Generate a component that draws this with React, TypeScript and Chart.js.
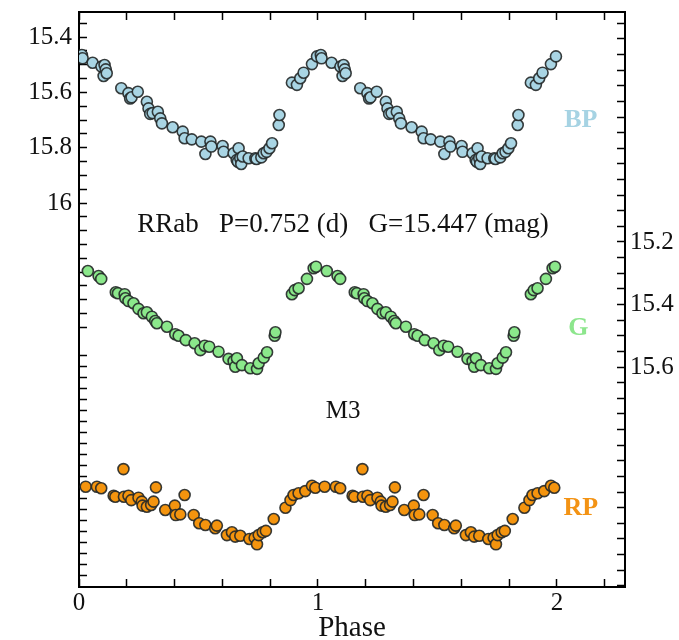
import { useEffect, useRef } from 'react';
import { Chart, registerables } from 'chart.js';

Chart.register(...registerables);

// ---- data (phase in [0,1); folded light curve is repeated at phase + 1) ----
const BP_PHASE = [0.012, 0.015, 0.057, 0.094, 0.103, 0.107, 0.112, 0.116, 0.177, 0.207, 0.214, 0.220, 0.246, 0.284, 0.291, 0.298, 0.308, 0.330, 0.340, 0.347, 0.392, 0.434, 0.442, 0.472, 0.512, 0.529, 0.550, 0.554, 0.601, 0.605, 0.647, 0.660, 0.665, 0.668, 0.675, 0.679, 0.685, 0.710, 0.738, 0.743, 0.763, 0.773, 0.785, 0.797, 0.808, 0.836, 0.839, 0.891, 0.912, 0.926, 0.940, 0.975, 0.996];
const BP_MAG = [15.465, 15.477, 15.493, 15.507, 15.541, 15.501, 15.517, 15.531, 15.585, 15.603, 15.622, 15.618, 15.598, 15.634, 15.658, 15.678, 15.675, 15.670, 15.694, 15.712, 15.726, 15.742, 15.766, 15.770, 15.778, 15.823, 15.778, 15.796, 15.794, 15.815, 15.820, 15.845, 15.851, 15.802, 15.838, 15.859, 15.832, 15.838, 15.838, 15.841, 15.835, 15.820, 15.815, 15.802, 15.784, 15.718, 15.682, 15.565, 15.573, 15.549, 15.529, 15.498, 15.470];

const G_PHASE = [0.037, 0.082, 0.093, 0.154, 0.163, 0.191, 0.194, 0.207, 0.228, 0.249, 0.270, 0.284, 0.305, 0.319, 0.326, 0.368, 0.403, 0.417, 0.447, 0.484, 0.508, 0.526, 0.545, 0.584, 0.626, 0.647, 0.654, 0.661, 0.682, 0.717, 0.745, 0.752, 0.773, 0.787, 0.819, 0.822, 0.891, 0.903, 0.919, 0.954, 0.982, 0.992];
const G_MAG = [15.293, 15.309, 15.318, 15.361, 15.364, 15.367, 15.380, 15.389, 15.396, 15.414, 15.428, 15.425, 15.439, 15.453, 15.460, 15.471, 15.495, 15.500, 15.514, 15.524, 15.546, 15.532, 15.535, 15.551, 15.574, 15.581, 15.599, 15.572, 15.594, 15.604, 15.606, 15.588, 15.570, 15.553, 15.500, 15.489, 15.367, 15.354, 15.348, 15.318, 15.284, 15.279];

const RP_PHASE = [0.028, 0.075, 0.093, 0.145, 0.152, 0.186, 0.188, 0.207, 0.219, 0.249, 0.263, 0.266, 0.284, 0.302, 0.312, 0.322, 0.361, 0.401, 0.405, 0.424, 0.442, 0.480, 0.503, 0.529, 0.570, 0.577, 0.619, 0.640, 0.654, 0.675, 0.713, 0.735, 0.745, 0.752, 0.769, 0.782, 0.815, 0.864, 0.885, 0.898, 0.919, 0.947, 0.975, 0.989];
const RP_MAG = [14.944, 14.944, 14.951, 14.985, 14.990, 14.864, 14.990, 14.985, 15.005, 14.994, 15.012, 15.030, 15.035, 15.027, 15.012, 14.947, 15.050, 15.030, 15.073, 15.070, 14.982, 15.073, 15.110, 15.118, 15.133, 15.121, 15.164, 15.151, 15.171, 15.167, 15.182, 15.176, 15.206, 15.164, 15.151, 15.145, 15.091, 15.040, 15.005, 14.982, 14.974, 14.964, 14.940, 14.949];

// ---- tick labels and texts ----
const X_TICK_LABELS = ['0', '1', '2'];
const BP_TICK_LABELS = ['15.4', '15.6', '15.8', '16'];
const RP_TICK_LABELS = ['14.8', '15', '15.2'];
const G_TICK_LABELS = ['15.2', '15.4', '15.6'];
const X_TITLE = 'Phase';
const INFO_TEXT = 'RRab   P=0.752 (d)   G=15.447 (mag)';
const CLUSTER_TEXT = 'M3';
const BAND_NAMES = ['BP', 'G', 'RP'];

const BAND_COLORS = ['#a9d5e4', '#8be88b', '#f4940e'];
const LABEL_COLORS = ['#a6d3e3', '#8de68d', '#f39314'];
const SERIF = "'Liberation Serif', 'Times New Roman', serif";

function fold(phase: number[], mag: number[]) {
  const first = phase.map((p, i) => ({ x: p, y: mag[i] }));
  const second = phase.map((p, i) => ({ x: p + 1, y: mag[i] }));
  return first.concat(second);
}

function tickRange(from: number, to: number, step: number) {
  const out: { value: number }[] = [];
  const n = Math.round((to - from) / step);
  for (let i = 0; i <= n; i++) out.push({ value: Math.round((from + i * step) * 1000) / 1000 });
  return out;
}

const fmt = (v: number) => String(Math.round(v * 100) / 100);

function noPad(scale: any) {
  scale.paddingTop = 0;
  scale.paddingBottom = 0;
  scale.paddingLeft = 0;
  scale.paddingRight = 0;
}

function yAxis(position: string, min: number, max: number, tFrom: number, tTo: number, labels: string[], width: number, weight: number, padding: number) {
  return {
    type: 'linear',
    position,
    reverse: true,
    min,
    max,
    weight,
    border: { display: true, color: '#000', width: 2 },
    grid: { drawOnChartArea: false, drawTicks: true, tickLength: -8, tickColor: '#000', tickWidth: 1.5 },
    ticks: {
      autoSkip: false,
      padding,
      color: '#111',
      font: { family: SERIF, size: 25 },
      callback: (v: number) => (labels.includes(fmt(v)) ? fmt(v) : ''),
    },
    afterBuildTicks: (scale: any) => {
      scale.ticks = tickRange(tFrom, tTo, 0.05);
    },
    afterFit: (scale: any) => {
      scale.width = width;
      noPad(scale);
    },
  };
}

const annotate = {
  id: 'annotate',
  afterDatasetsDraw(chart: any) {
    const { ctx, scales } = chart;
    const x = scales.x;
    ctx.save();
    ctx.textAlign = 'center';
    ctx.textBaseline = 'middle';
    ctx.fillStyle = '#111';
    ctx.font = `27px ${SERIF}`;
    ctx.fillText(INFO_TEXT, x.getPixelForValue(1.105), scales.yBP.getPixelForValue(16.08));
    ctx.font = `25px ${SERIF}`;
    ctx.fillText(CLUSTER_TEXT, x.getPixelForValue(1.105), scales.yRP.getPixelForValue(14.6));
    ctx.font = `bold 26px ${SERIF}`;
    ctx.fillStyle = LABEL_COLORS[0];
    ctx.fillText(BAND_NAMES[0], x.getPixelForValue(2.1), scales.yBP.getPixelForValue(15.7));
    ctx.fillStyle = LABEL_COLORS[1];
    ctx.fillText(BAND_NAMES[1], x.getPixelForValue(2.09), scales.yG.getPixelForValue(15.475));
    ctx.fillStyle = LABEL_COLORS[2];
    ctx.fillText(BAND_NAMES[2], x.getPixelForValue(2.1), scales.yRP.getPixelForValue(15.04));
    ctx.restore();
  },
};

export default function App() {
  const ref = useRef<HTMLCanvasElement | null>(null);

  useEffect(() => {
    if (!ref.current) return;
    const mk = (i: number, data: any[], axis: string) => ({
      label: BAND_NAMES[i],
      data,
      yAxisID: axis,
      xAxisID: 'x',
      pointRadius: 5.5,
      pointHoverRadius: 5.5,
      pointBorderWidth: 1.6,
      pointBackgroundColor: BAND_COLORS[i],
      pointBorderColor: 'rgba(35,40,40,0.9)',
      showLine: false,
    });
    const chart = new Chart(ref.current, {
      type: 'scatter',
      data: {
        datasets: [
          mk(0, fold(BP_PHASE, BP_MAG), 'yBP'),
          mk(1, fold(G_PHASE, G_MAG), 'yG'),
          mk(2, fold(RP_PHASE, RP_MAG), 'yRP'),
        ],
      },
      options: {
        responsive: false,
        animation: false,
        layout: { padding: 0 },
        plugins: { legend: { display: false }, tooltip: { enabled: false } },
        scales: {
          x: {
            type: 'linear',
            position: 'bottom',
            min: 0,
            max: 2.285,
            border: { display: true, color: '#000', width: 2 },
            grid: { drawOnChartArea: false, drawTicks: true, tickLength: -8, tickColor: '#000', tickWidth: 1.5 },
            ticks: {
              autoSkip: false,
              maxRotation: 0,
              padding: 9,
              color: '#111',
              font: { family: SERIF, size: 25 },
              callback: (v: number) => (X_TICK_LABELS.includes(fmt(v)) ? fmt(v) : ''),
            },
            title: {
              display: true,
              text: X_TITLE,
              color: '#111',
              font: { family: SERIF, size: 29, lineHeight: 1 },
              padding: { top: 0, bottom: -3 },
            },
            afterBuildTicks: (scale: any) => {
              scale.ticks = tickRange(0, 2.2, 0.2);
            },
            afterFit: (scale: any) => {
              scale.height = 53;
              noPad(scale);
            },
          },
          xTop: {
            type: 'linear',
            position: 'top',
            min: 0,
            max: 2.285,
            border: { display: true, color: '#000', width: 2 },
            grid: { drawOnChartArea: false, drawTicks: true, tickLength: -8, tickColor: '#000', tickWidth: 1.5 },
            ticks: { display: false },
            afterBuildTicks: (scale: any) => {
              scale.ticks = tickRange(0, 2.2, 0.2);
            },
            afterFit: (scale: any) => {
              scale.height = 12;
              noPad(scale);
            },
          },
          yBP: yAxis('left', 15.3096, 17.388, 15.35, 16.45, BP_TICK_LABELS, 79, 1, 15),
          yRP: yAxis('left', 12.7864, 15.4, 14.35, 15.35, RP_TICK_LABELS, 0, 0, 15),
          yG: yAxis('right', 14.464, 16.304, 14.5, 16.3, G_TICK_LABELS, 54, 0, 13),
        } as any,
      },
      plugins: [annotate],
    });
    return () => chart.destroy();
  }, []);

  return (
    <div style={{ position: 'fixed', left: 0, top: 0, width: 679, height: 640, background: '#fff' }}>
      <canvas ref={ref} width={679} height={640} style={{ display: 'block', width: 679, height: 640 }} />
    </div>
  );
}
